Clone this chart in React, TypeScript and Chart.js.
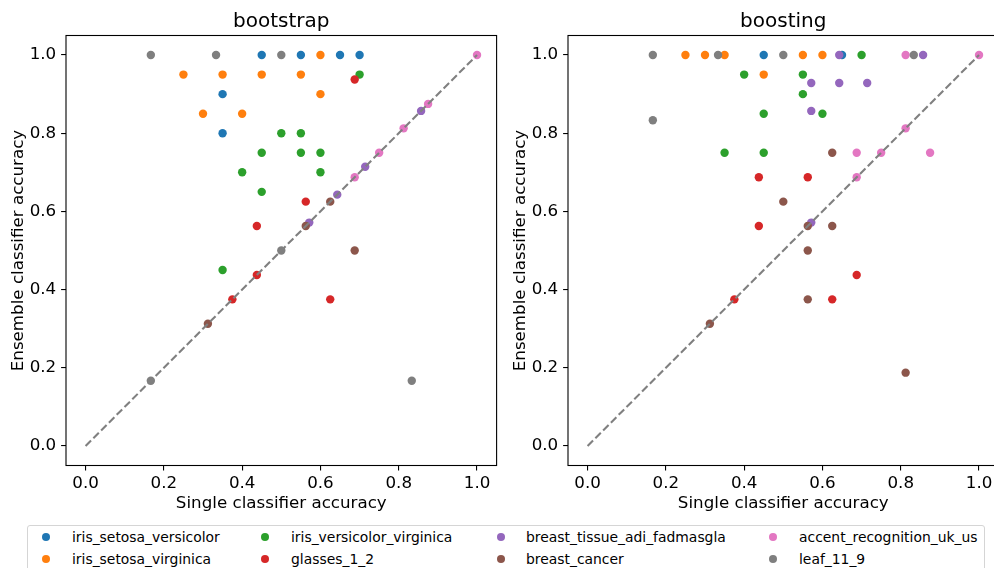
import React, { useEffect, useRef } from "react";
import { Chart, registerables } from "chart.js";

Chart.register(...registerables);

const SERIES_NAMES = [
  "iris_setosa_versicolor",
  "iris_setosa_virginica",
  "iris_versicolor_virginica",
  "glasses_1_2",
  "breast_tissue_adi_fadmasgla",
  "breast_cancer",
  "accent_recognition_uk_us",
  "leaf_11_9",
];
const COLORS = ["#1f77b4", "#ff7f0e", "#2ca02c", "#d62728", "#9467bd", "#8c564b", "#e377c2", "#7f7f7f"];
const AXIS_TICKS = [0, 0.2, 0.4, 0.6, 0.8, 1.0];
const DIAGONAL = [0, 1];

// ---- bootstrap panel: [single accuracy, ensemble accuracy]
const bootSetosaVersicolor = [[0.45, 1], [0.55, 1], [0.65, 1], [0.7, 1], [0.35, 0.9], [0.35, 0.8]];
const bootSetosaVirginica = [[0.6, 1], [0.25, 0.95], [0.35, 0.95], [0.45, 0.95], [0.55, 0.95], [0.6, 0.9], [0.3, 0.85], [0.4, 0.85]];
const bootVersicolorVirginica = [[0.7, 0.95], [0.5, 0.8], [0.55, 0.8], [0.45, 0.75], [0.55, 0.75], [0.6, 0.75], [0.4, 0.7], [0.6, 0.7], [0.45, 0.65], [0.35, 0.45]];
const bootGlasses = [[0.6875, 0.9375], [0.5625, 0.625], [0.4375, 0.5625], [0.4375, 0.4375], [0.375, 0.375], [0.625, 0.375]];
const bootBreastTissue = [[0.8571, 0.8571], [0.7143, 0.7143], [0.6429, 0.6429], [0.5714, 0.5714]];
const bootBreastCancer = [[0.625, 0.625], [0.5625, 0.5625], [0.6875, 0.5], [0.3125, 0.3125]];
const bootAccent = [[1, 1], [0.875, 0.875], [0.8125, 0.8125], [0.75, 0.75], [0.6875, 0.6875]];
const bootLeaf = [[0.1667, 1], [0.3333, 1], [0.5, 1], [0.5, 0.5], [0.1667, 0.1667], [0.8333, 0.1667]];

// ---- boosting panel
const boostSetosaVersicolor = [[0.45, 1], [0.65, 1]];
const boostSetosaVirginica = [[0.25, 1], [0.3, 1], [0.35, 1], [0.55, 1], [0.6, 1], [0.45, 0.95]];
const boostVersicolorVirginica = [[0.7, 1], [0.4, 0.95], [0.55, 0.95], [0.55, 0.9], [0.45, 0.85], [0.6, 0.85], [0.35, 0.75], [0.45, 0.75]];
const boostGlasses = [[0.4375, 0.6875], [0.5625, 0.6875], [0.4375, 0.5625], [0.375, 0.375], [0.6875, 0.4375], [0.625, 0.375]];
const boostBreastTissue = [[0.6429, 1], [0.8571, 1], [0.5714, 0.9286], [0.6429, 0.9286], [0.7143, 0.9286], [0.5714, 0.8571], [0.5714, 0.5714]];
const boostBreastCancer = [[0.625, 0.75], [0.5, 0.625], [0.5625, 0.5625], [0.625, 0.5625], [0.5625, 0.5], [0.5625, 0.375], [0.3125, 0.3125], [0.8125, 0.1875]];
const boostAccent = [[1, 1], [0.8125, 1], [0.8125, 0.8125], [0.6875, 0.75], [0.75, 0.75], [0.875, 0.75], [0.6875, 0.6875]];
const boostLeaf = [[0.1667, 1], [0.3333, 1], [0.5, 1], [0.8333, 1], [0.1667, 0.8333]];

const BOOTSTRAP = [bootSetosaVersicolor, bootSetosaVirginica, bootVersicolorVirginica, bootGlasses, bootBreastTissue, bootBreastCancer, bootAccent, bootLeaf];
const BOOSTING = [boostSetosaVersicolor, boostSetosaVirginica, boostVersicolorVirginica, boostGlasses, boostBreastTissue, boostBreastCancer, boostAccent, boostLeaf];

const FONT = "'DejaVu Sans', sans-serif";

const framePlugin = {
  id: "frame",
  afterDraw(chart: any, _args: any, opts: any) {
    const { ctx, chartArea } = chart;
    ctx.save();
    ctx.strokeStyle = "#000";
    ctx.lineWidth = 1.1;
    ctx.strokeRect(chartArea.left, chartArea.top, chartArea.right - chartArea.left, chartArea.bottom - chartArea.top);
    // axes title centred over the plot area, matplotlib-style
    ctx.fillStyle = "#000";
    ctx.font = `20px ${FONT}`;
    ctx.textAlign = "center";
    ctx.textBaseline = "alphabetic";
    ctx.fillText(opts.text, (chartArea.left + chartArea.right) / 2, chartArea.top - 8.3);
    ctx.restore();
  },
};

function Panel({ title, series, left }: { title: string; series: number[][][]; left: number }) {
  const ref = useRef<HTMLCanvasElement>(null);
  useEffect(() => {
    if (!ref.current) return;
    const datasets: any[] = series.map((pts, i) => ({
      type: "scatter",
      label: SERIES_NAMES[i],
      data: pts.map(([x, y]) => ({ x, y })),
      backgroundColor: COLORS[i],
      borderWidth: 0,
      pointRadius: 4.2,
      pointHoverRadius: 4.2,
      order: 20 - i,
    }));
    datasets.push({
      type: "line",
      label: "diagonal",
      data: DIAGONAL.map((v) => ({ x: v, y: v })),
      borderColor: "#808080",
      borderWidth: 2.1,
      borderDash: [7.7, 3.3],
      pointRadius: 0,
      fill: false,
      order: -1,
    });
    const tickFont = { family: FONT, size: 16.7 };
    const grid = {
      display: true,
      drawOnChartArea: false,
      drawTicks: true,
      tickLength: 4.9,
      color: "#000",
      lineWidth: 1.1,
    };
    const chart = new Chart(ref.current, {
      type: "scatter",
      data: { datasets },
      plugins: [framePlugin],
      options: {
        responsive: false,
        animation: false,
        devicePixelRatio: 1,
        layout: { padding: { left: 0, right: 5.4, top: 35.5, bottom: 0 } },
        plugins: {
          legend: { display: false },
          tooltip: { enabled: false },
          title: { display: false },
          frame: { text: title },
        },
        scales: {
          x: {
            type: "linear",
            min: -0.05,
            max: 1.05,
            afterBuildTicks: (s: any) => {
              s.ticks = AXIS_TICKS.map((v) => ({ value: v }));
            },
            afterFit: (s: any) => {
              s.height = 54.5;
            },
            grid,
            border: { display: false },
            ticks: {
              autoSkip: false,
              maxRotation: 0,
              padding: 3.5,
              color: "#000",
              font: tickFont,
              callback: (v: any) => Number(v).toFixed(1),
            },
            title: {
              display: true,
              text: "Single classifier accuracy",
              color: "#000",
              font: tickFont,
              padding: { top: 0, bottom: 6 },
            },
          },
          y: {
            type: "linear",
            min: -0.05,
            max: 1.05,
            afterBuildTicks: (s: any) => {
              s.ticks = AXIS_TICKS.map((v) => ({ value: v }));
            },
            afterFit: (s: any) => {
              s.width = 66;
            },
            grid,
            border: { display: false },
            ticks: {
              autoSkip: false,
              padding: 4.9,
              color: "#000",
              font: tickFont,
              callback: (v: any) => Number(v).toFixed(1),
            },
            title: {
              display: true,
              text: "Ensemble classifier accuracy",
              color: "#000",
              font: tickFont,
              padding: { top: 8.5, bottom: 0 },
            },
          },
        },
      } as any,
    });
    return () => chart.destroy();
  }, [title, series]);
  return (
    <canvas
      ref={ref}
      width={502}
      height={520}
      style={{ position: "absolute", left, top: 0, width: 502, height: 520, display: "block" }}
    />
  );
}

const LEGEND_COLUMNS = [
  { marker: 46, text: 72 },
  { marker: 265, text: 291 },
  { marker: 500.6, text: 526 },
  { marker: 773, text: 799 },
];
const LEGEND_ROWS = [537.3, 559];

function Legend() {
  return (
    <>
      <div
        style={{
          position: "absolute",
          left: 27,
          top: 525,
          width: 958,
          height: 50,
          border: "1px solid #d5d5d5",
          borderRadius: 3,
          background: "rgba(255,255,255,0.8)",
          boxSizing: "border-box",
        }}
      />
      {SERIES_NAMES.map((name, i) => {
        const col = LEGEND_COLUMNS[Math.floor(i / 2)];
        const rowY = LEGEND_ROWS[i % 2];
        return (
          <React.Fragment key={name}>
            <div
              style={{
                position: "absolute",
                left: col.marker - 4,
                top: rowY - 4,
                width: 8,
                height: 8,
                borderRadius: "50%",
                background: COLORS[i],
              }}
            />
            <div
              style={{
                position: "absolute",
                left: col.text,
                top: rowY - 10,
                height: 20,
                lineHeight: "20px",
                fontFamily: FONT,
                fontSize: 13.9,
                color: "#000",
                whiteSpace: "nowrap",
              }}
            >
              {name}
            </div>
          </React.Fragment>
        );
      })}
    </>
  );
}

export default function App() {
  return (
    <div
      style={{
        position: "absolute",
        left: 0,
        top: 0,
        width: 994,
        height: 568,
        overflow: "hidden",
        background: "#fff",
      }}
    >
      <Panel title="bootstrap" series={BOOTSTRAP} left={0} />
      <Panel title="boosting" series={BOOSTING} left={502} />
      <Legend />
    </div>
  );
}
